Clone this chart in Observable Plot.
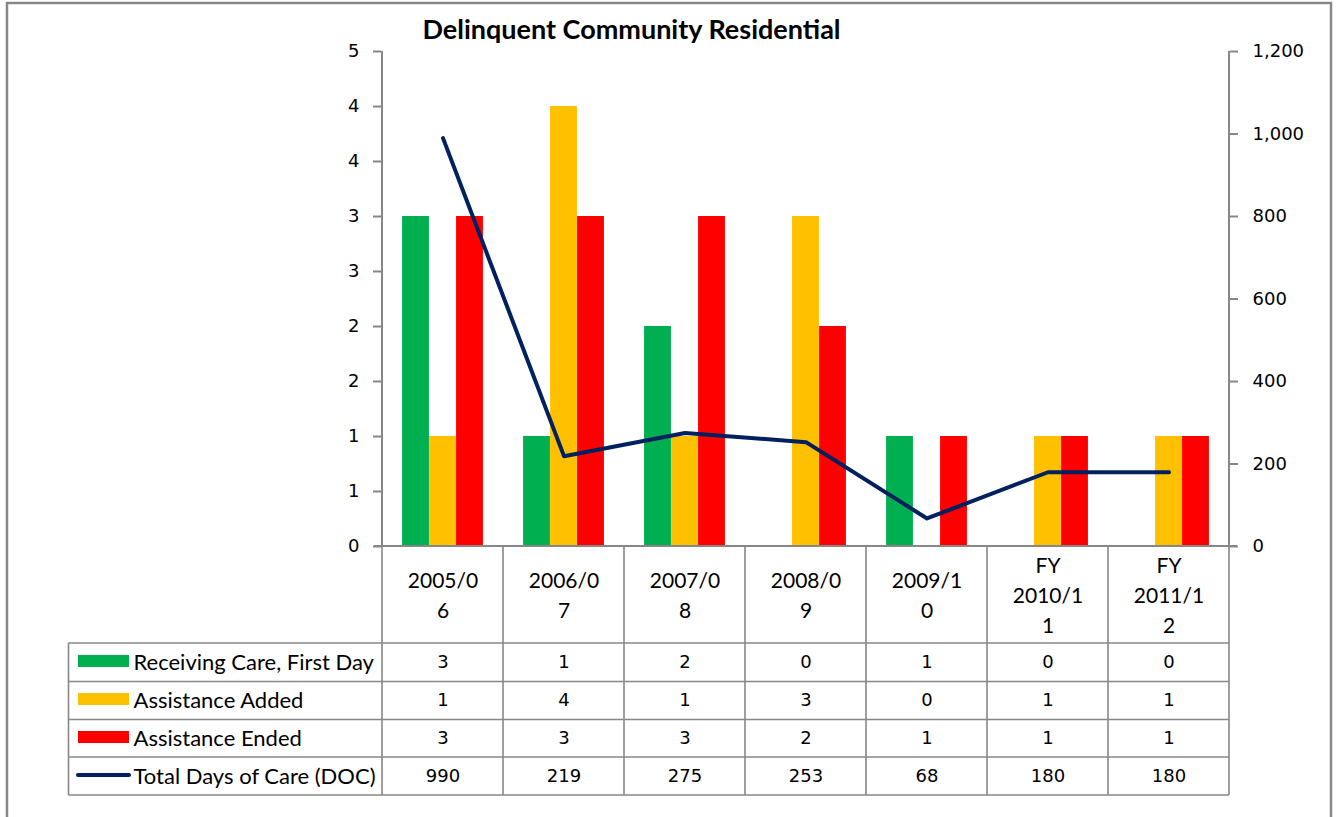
<!DOCTYPE html>
<html><head><meta charset="utf-8">
<script src="https://cdn.jsdelivr.net/npm/d3@7"></script>
<script src="https://cdn.jsdelivr.net/npm/@observablehq/plot@0.6"></script>
<style>
body{margin:0;background:#fff;}
#chart{position:relative;width:1337px;height:817px;overflow:hidden;background:#fff;}
</style></head><body><div id="chart"></div>
<script>
// ---- data ----
const titleText = "Delinquent Community Residential";
const categories = ["2005/06","2006/07","2007/08","2008/09","2009/10","FY 2010/11","FY 2011/12"];
const categoryLabels = ["2005/0\n6","2006/0\n7","2007/0\n8","2008/0\n9","2009/1\n0","FY\n2010/1\n1","FY\n2011/1\n2"];
const receivingCare = [3,1,2,0,1,0,0];
const assistanceAdded = [1,4,1,3,0,1,1];
const assistanceEnded = [3,3,3,2,1,1,1];
const totalDays = [990,219,275,253,68,180,180];
const seriesNames = ["Receiving Care, First Day","Assistance Added","Assistance Ended","Total Days of Care (DOC)"];
const seriesColors = ["#00B050","#FFC000","#FF0000","#002060"];
const leftTicks = [0,0.5,1,1.5,2,2.5,3,3.5,4,4.5];
const leftTickLabels = ["0","1","1","2","2","3","3","4","4","5"];
const rightTicks = [0,200,400,600,800,1000,1200];
const rightTickLabels = ["0","200","400","600","800","1,000","1,200"];

// ---- layout ----
const W = 1337, H = 817;
const mL = 381, mR = W - 1229, mT = 51, mB = H - 546;
const yMax = 4.5, rightMax = 1200;
const toLeft = v => v / rightMax * yMax;
const rightTickPos = rightTicks.map(toLeft);
const bandW = (W - mL - mR) / categories.length;
const barW = 27;
const inset = (bandW - barW) / 2;
const gray = "#878787";
const rowDy = [116, 154, 192, 230];
const rowLines = [643, 681.5, 719.5, 757, 795];

const rows = categories.map((c, i) => ({
  cat: c, label: categoryLabels[i],
  s0: receivingCare[i], s1: assistanceAdded[i], s2: assistanceEnded[i],
  days: totalDays[i]
}));
const seriesKeys = ["s0","s1","s2"];
const tableValues = [receivingCare, assistanceAdded, assistanceEnded, totalDays];

const marks = [];
seriesKeys.forEach((k, j) => {
  marks.push(Plot.barY(rows, {x: "cat", y: k, fill: seriesColors[j], insetLeft: inset, insetRight: inset, dx: (j - 1) * barW}));
});
marks.push(Plot.lineY(rows, {x: "cat", y: d => toLeft(d.days), stroke: seriesColors[3], strokeWidth: 4, strokeLinecap: "round", strokeLinejoin: "round"}));
marks.push(Plot.axisY(leftTicks, {anchor: "left", label: null, tickSize: 8, tickPadding: 14, stroke: gray, strokeWidth: 2, fill: "#000", fontSize: 18,
  tickFormat: d => leftTickLabels[leftTicks.indexOf(d)]}));
marks.push(Plot.axisY(rightTickPos, {anchor: "right", label: null, tickSize: 8, tickPadding: 15, stroke: gray, strokeWidth: 2, fill: "#000", fontSize: 18,
  tickFormat: d => rightTickLabels[rightTickPos.indexOf(d)]}));
// title
marks.push(Plot.text([titleText], {text: d => d, frameAnchor: "top-left", dx: 631 - mL, dy: 30 - mT, lineAnchor: "middle", fontWeight: "bold", fontSize: 27, fontFamily: "Lato", textAnchor: "middle", fill: "#000"}));
// header row of data table (category labels)
marks.push(Plot.text(rows, {x: "cat", text: "label", frameAnchor: "bottom", dy: 47, lineAnchor: "middle", lineHeight: 1.43, fontSize: 21, fontFamily: "Lato", fill: "#000"}));
// table values and row labels
tableValues.forEach((vals, r) => {
  marks.push(Plot.text(rows, {x: "cat", text: (d, i) => String(vals[i]), frameAnchor: "bottom", dy: rowDy[r], lineAnchor: "middle", fontSize: 18, fontFamily: "DejaVu Sans", fill: "#000"}));
  marks.push(Plot.text([seriesNames[r]], {text: d => d, frameAnchor: "bottom-left", dx: 133 - mL, dy: rowDy[r], lineAnchor: "middle", textAnchor: "start", fontSize: 22, fontFamily: "Lato", fill: "#000"}));
});

const plot = Plot.plot({
  width: W, height: H,
  marginLeft: mL, marginRight: mR, marginTop: mT, marginBottom: mB,
  style: {background: "#fff", fontFamily: "DejaVu Sans", fontSize: "18px", color: "#000"},
  x: {type: "band", domain: categories, padding: 0, axis: null},
  y: {domain: [0, yMax], label: null},
  marks
});
document.getElementById("chart").appendChild(plot);

// ---- table grid, axis lines, legend keys, border (positions via plot scales) ----
const svg = d3.select(plot);
const xs = plot.scale("x");
const ys = plot.scale("y");
const bounds = categories.map(c => xs.apply(c));
bounds.push(bounds[bounds.length - 1] + xs.bandwidth);
const y0 = ys.apply(0), yTop = ys.apply(yMax);
const g = svg.append("g").attr("stroke", gray).attr("fill", "none");
// axis lines
g.append("line").attr("x1", bounds[0]).attr("x2", bounds[0]).attr("y1", yTop).attr("y2", y0).attr("stroke-width", 2);
g.append("line").attr("x1", bounds[7]).attr("x2", bounds[7]).attr("y1", yTop).attr("y2", y0).attr("stroke-width", 2);
g.append("line").attr("x1", bounds[0] - 8).attr("x2", bounds[7] + 8).attr("y1", y0).attr("y2", y0).attr("stroke-width", 2);
// table verticals
bounds.forEach(b => g.append("line").attr("x1", b).attr("x2", b).attr("y1", y0).attr("y2", rowLines[4]).attr("stroke-width", 1.6));
g.append("line").attr("x1", 68.5).attr("x2", 68.5).attr("y1", rowLines[0]).attr("y2", rowLines[4]).attr("stroke-width", 1.6);
rowLines.forEach(yy => g.append("line").attr("x1", 68.5).attr("x2", bounds[7]).attr("y1", yy).attr("y2", yy).attr("stroke-width", 1.6));
// legend keys
[0,1,2].forEach(r => svg.append("rect").attr("x", 78).attr("y", y0 + rowDy[r] - 7).attr("width", 51).attr("height", 12).attr("fill", seriesColors[r]));
svg.append("line").attr("x1", 78).attr("x2", 129).attr("y1", y0 + rowDy[3] - 1).attr("y2", y0 + rowDy[3] - 1).attr("stroke", seriesColors[3]).attr("stroke-width", 4).attr("stroke-linecap", "round");
// outer chart border
svg.append("rect").attr("x", 7).attr("y", 3).attr("width", 1324).attr("height", 830).attr("fill", "none").attr("stroke", gray).attr("stroke-width", 2.5);
</script></body></html>
